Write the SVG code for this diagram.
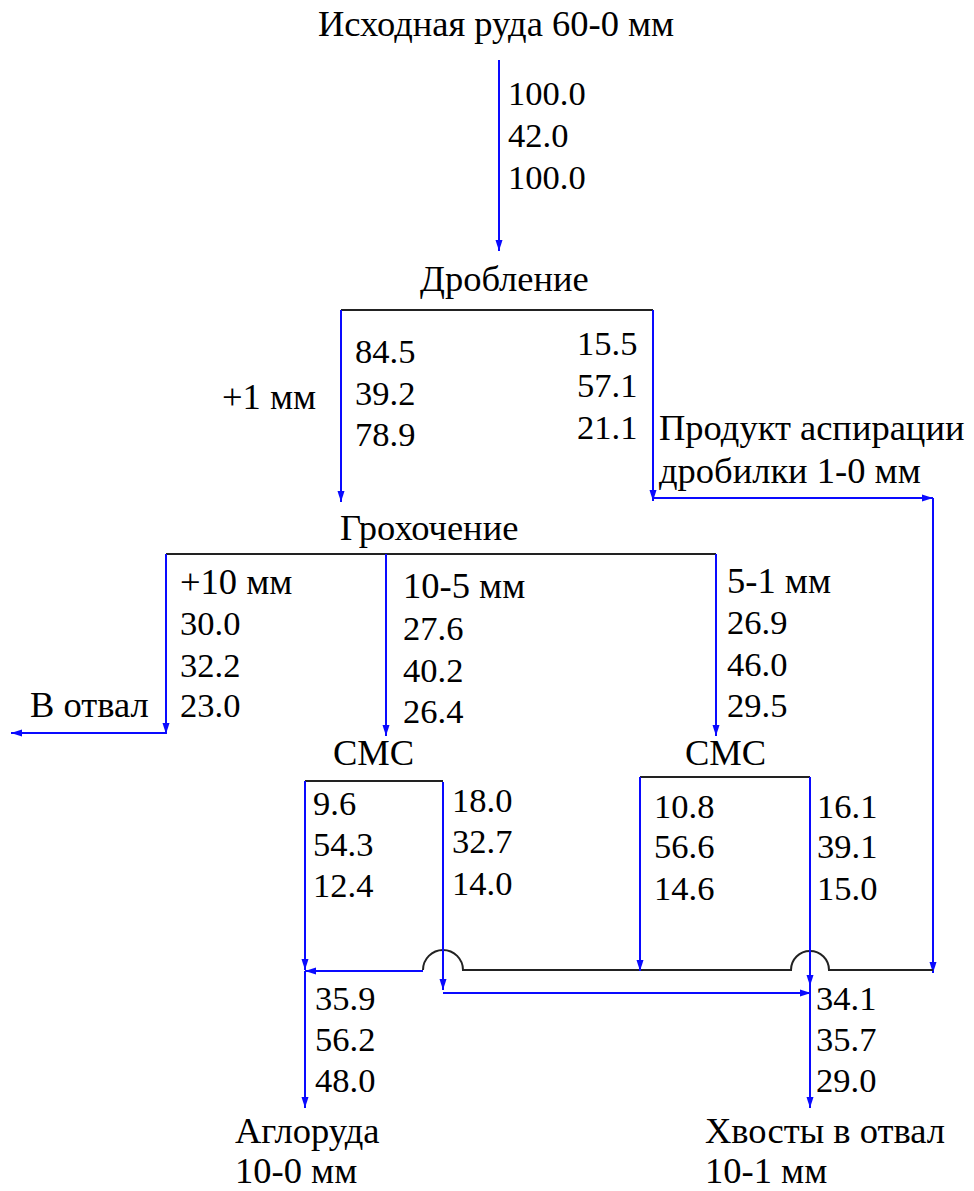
<svg xmlns="http://www.w3.org/2000/svg" width="974" height="1191" viewBox="0 0 974 1191">
<style>
text{font-family:"Liberation Serif","Times New Roman",serif;fill:#000}
.n{font-size:34.5px}
.w{font-size:36.5px}
.b{fill:none;stroke:#0a0aff;stroke-width:2}
.k{fill:none;stroke:#222;stroke-width:2}
.a{marker-end:url(#ah)}
</style>
<defs>
<marker id="ah" markerUnits="userSpaceOnUse" markerWidth="12" markerHeight="8" refX="11" refY="4" orient="auto">
<path d="M0,0.5 L11,4 L0,7.5 z" fill="#0a0aff"/>
</marker>
</defs>
<rect width="974" height="1191" fill="#fff"/>
<g id="connectors">
<path class="b a" d="M499,60 V251"/>
<path class="k" d="M341,310 H653"/>
<path class="b a" d="M341,310 V502"/>
<path class="b a" d="M653,310 V501"/>
<path class="b a" d="M653,498 H933"/>
<path class="b a" d="M933,498 V973"/>
<path class="k" d="M166,554 H716"/>
<path class="b a" d="M166,554 V734"/>
<path class="b a" d="M166,733 H11"/>
<path class="b a" d="M386,554 V736"/>
<path class="b a" d="M716,554 V736"/>
<path class="k" d="M305,781 H443"/>
<path class="b a" d="M305,781 V970"/>
<path class="k" d="M933,970 H829 A19,19 0 0 0 791,970 H463 A20,20 0 0 0 423,970"/>
<path class="b a" d="M423,971 H305"/>
<path class="k" d="M640,777 H810"/>
<path class="b a" d="M640,777 V971"/>
<path class="b a" d="M443,782 V990"/>
<path class="b a" d="M443,993 H811"/>
<path class="b a" d="M810,777 V986"/>
<path class="b a" d="M810,985 V1108"/>
<path class="b a" d="M305,971 V1108"/>
</g>
<g id="flow-labels">
<text class="n" x="508" y="105">100.0</text>
<text class="n" x="508" y="147">42.0</text>
<text class="n" x="508" y="189">100.0</text>
<text class="w" x="222" y="409">+1 мм</text>
<text class="n" x="355" y="363">84.5</text>
<text class="n" x="355" y="405">39.2</text>
<text class="n" x="355" y="446">78.9</text>
<text class="n" x="577" y="355">15.5</text>
<text class="n" x="577" y="397">57.1</text>
<text class="n" x="577" y="439">21.1</text>
<text class="w" x="180" y="594">+10 мм</text>
<text class="n" x="180" y="635">30.0</text>
<text class="n" x="180" y="677">32.2</text>
<text class="n" x="180" y="717">23.0</text>
<text class="w" x="403" y="598">10-5 мм</text>
<text class="n" x="403" y="640">27.6</text>
<text class="n" x="403" y="682">40.2</text>
<text class="n" x="403" y="723">26.4</text>
<text class="w" x="727" y="593">5-1 мм</text>
<text class="n" x="727" y="634">26.9</text>
<text class="n" x="727" y="676">46.0</text>
<text class="n" x="727" y="717">29.5</text>
<text class="n" x="313" y="815">9.6</text>
<text class="n" x="313" y="856">54.3</text>
<text class="n" x="313" y="897">12.4</text>
<text class="n" x="452" y="812">18.0</text>
<text class="n" x="452" y="853">32.7</text>
<text class="n" x="452" y="895">14.0</text>
<text class="n" x="654" y="818">10.8</text>
<text class="n" x="654" y="858">56.6</text>
<text class="n" x="654" y="900">14.6</text>
<text class="n" x="817" y="818">16.1</text>
<text class="n" x="817" y="858">39.1</text>
<text class="n" x="817" y="900">15.0</text>
<text class="n" x="315" y="1010">35.9</text>
<text class="n" x="315" y="1051">56.2</text>
<text class="n" x="315" y="1092">48.0</text>
<text class="n" x="816" y="1010">34.1</text>
<text class="n" x="816" y="1051">35.7</text>
<text class="n" x="816" y="1092">29.0</text>
</g>
<g id="feed"><text class="w" x="318" y="36">Исходная руда 60-0 мм</text></g>
<g id="crushing"><text class="w" x="420" y="291">Дробление</text></g>
<g id="aspiration"><text class="w" x="659" y="440">Продукт аспирации</text><text class="w" x="659" y="483">дробилки 1-0 мм</text></g>
<g id="screening"><text class="w" x="340" y="540">Грохочение</text></g>
<g id="dump"><text class="w" x="30" y="717">В отвал</text></g>
<g id="cms1"><text class="w" x="333" y="765">СМС</text></g>
<g id="cms2"><text class="w" x="685" y="765">СМС</text></g>
<g id="agloruda"><text class="w" x="235" y="1143">Аглоруда</text><text class="w" x="235" y="1183">10-0 мм</text></g>
<g id="tails"><text class="w" x="705" y="1143">Хвосты в отвал</text><text class="w" x="705" y="1183">10-1 мм</text></g>
</svg>
